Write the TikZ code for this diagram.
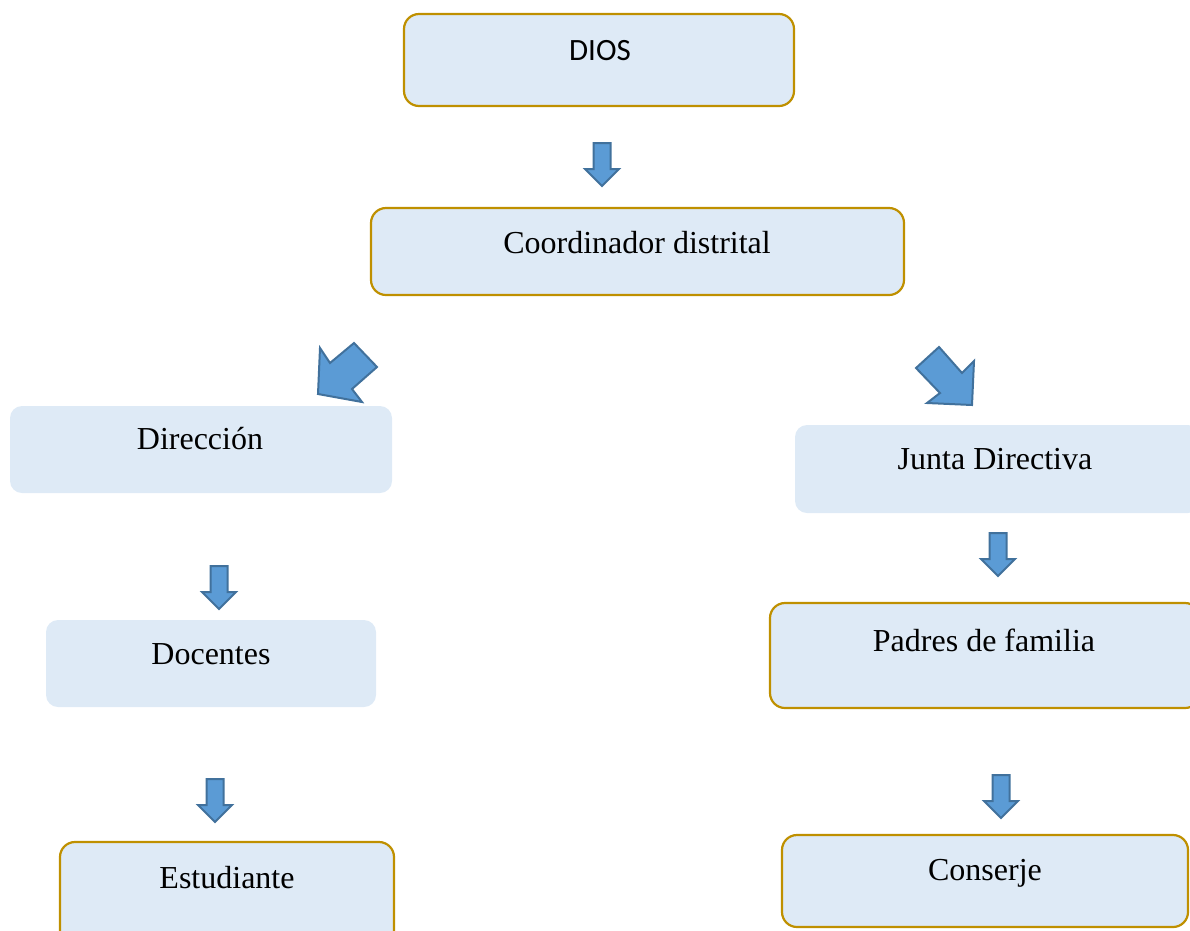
\documentclass[tikz,border=0pt]{standalone}
\usepackage{fontspec}
\setmainfont{Liberation Serif}
\newfontfamily\calibri{Carlito}
\definecolor{boxfill}{HTML}{DEEAF6}
\definecolor{boxline}{HTML}{BF9000}
\definecolor{arrfill}{HTML}{5B9BD5}
\definecolor{arrline}{HTML}{41719C}
\tikzset{
  orgbox/.style={fill=boxfill, draw=boxline, line width=2.2pt, rounded corners=15pt},
  plainbox/.style={fill=boxfill, draw=none, rounded corners=12pt},
  lbl/.style={anchor=base, inner sep=0pt, font=\fontsize{32}{36}\selectfont},
  blockarrow/.style={fill=arrfill, draw=arrline, line width=2pt, line join=miter},
}
\begin{document}
\begin{tikzpicture}[x=1pt,y=-1pt]
\useasboundingbox (0,0) rectangle (1190,930);
\clip (0,0) rectangle (1190,930);
% boxes
\draw[orgbox] (404,14) rectangle (794,106);
\draw[orgbox] (371,208) rectangle (904,295);
\fill[plainbox] (10,406) rectangle (392,493);
\fill[plainbox] (795,425) rectangle (1200,513);
\fill[plainbox] (46,620) rectangle (376,707);
\draw[orgbox] (770,603) rectangle (1200,708);
\draw[orgbox] (60,842) rectangle (394,945);
\draw[orgbox] (782,835) rectangle (1188,927);
% labels
\node[lbl, font=\calibri\fontsize{31}{36}\selectfont] (dios) at (600,60) {DIOS};
\node[lbl] (coord) at (637,253) {Coordinador distrital};
\node[lbl] (dir) at (200,449) {Dirección};
\node[lbl] (junta) at (995,469) {Junta Directiva};
\node[lbl] (doc) at (211,664) {Docentes};
\node[lbl] (padres) at (984,651) {Padres de familia};
\node[lbl] (est) at (227,888) {Estudiante};
\node[lbl] (cons) at (985,880) {Conserje};
% small down block arrows
\foreach \cx/\ty in {602/143, 219/566, 998/533, 215/779, 1001/775}{
  \draw[blockarrow, shift={(\cx,\ty)}]
    (-8.5,0) -- (8.5,0) -- (8.5,26) -- (17,26) -- (0,43) -- (-17,26) -- (-8.5,26) -- cycle;
}
% diagonal block arrows
\draw[blockarrow] (354,343) -- (377,367) -- (352,389) -- (362,402) -- (318,394) -- (320,348) -- (330,363) -- cycle;
\draw[blockarrow] (916,368) -- (939,347) -- (962,373) -- (974,361) -- (972,405) -- (927,403) -- (940,393) -- cycle;
\end{tikzpicture}
\end{document}
